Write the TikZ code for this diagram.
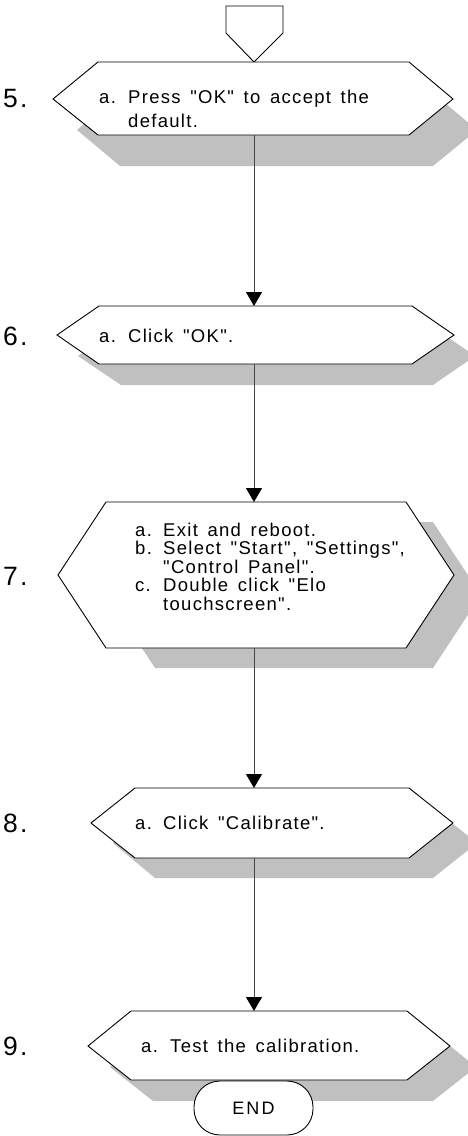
\documentclass[tikz,border=0pt]{standalone}
\usepackage{fontspec}
\setmainfont{Liberation Sans}
\newfontfamily\stepfont[LetterSpace=7,WordSpace=1.5]{Liberation Sans}
\newfontfamily\numfont[LetterSpace=8]{Liberation Sans}
\newfontfamily\endfont[LetterSpace=12]{Liberation Sans}
\usetikzlibrary{arrows.meta}
\definecolor{shadowgray}{RGB}{192,192,192}
\definecolor{flowgray}{RGB}{70,70,70}
\begin{document}
\begin{tikzpicture}[x=1pt,y=-1pt,
  hexline/.style={draw=black,line width=0.9pt,fill=white,line join=miter},
  shade/.style={fill=shadowgray,draw=none},
  flow/.style={draw=flowgray,line width=0.9pt,-{Triangle[width=16pt,length=14pt,color=black]}},
  steptext/.style={anchor=base west,inner sep=0pt,font=\stepfont\fontsize{18.5}{17.4}\selectfont},
  numlabel/.style={anchor=base west,inner sep=0pt,font=\numfont\fontsize{26.5}{26.5}\selectfont},
  endbox/.style={draw=black,line width=0.9pt,fill=white,rounded corners=26pt,minimum width=119pt,minimum height=54pt,inner sep=0pt,font=\endfont\fontsize{18}{18}\selectfont}
]
\useasboundingbox (0,0) rectangle (468,1136);
\clip (0,0) rectangle (468,1136);

% shadows
\fill[shade] (77,130) -- (120,93) -- (433,93) -- (477,130) -- (433,166) -- (120,166) -- cycle;
\fill[shade] (78,356) -- (121,327) -- (433,327) -- (475,356) -- (433,385) -- (121,385) -- cycle;
\fill[shade] (107,595) -- (155,522) -- (433,522) -- (481,595) -- (433,668) -- (155,668) -- cycle;
\fill[shade] (113,843) -- (155,808) -- (433,808) -- (477,843) -- (433,878) -- (155,878) -- cycle;
\fill[shade] (110,1067) -- (153,1032) -- (433,1032) -- (476,1067) -- (433,1101) -- (153,1101) -- cycle;

% off-page connector
\draw[hexline] (226,6) -- (283,6) -- (283,33) -- (254,62) -- (226,33) -- cycle;

% hexagons
\draw[hexline] (53,99) -- (98,62) -- (409,62) -- (453,99) -- (409,135) -- (98,135) -- cycle;
\draw[hexline] (57,335) -- (99,306) -- (412,306) -- (454,335) -- (412,364) -- (99,364) -- cycle;
\draw[hexline] (58,575) -- (106,502) -- (406,502) -- (454,575) -- (406,648) -- (106,648) -- cycle;
\draw[hexline] (91,823) -- (135,788) -- (409,788) -- (453,823) -- (409,858) -- (135,858) -- cycle;
\draw[hexline] (88,1046) -- (131,1011) -- (407,1011) -- (450,1046) -- (407,1080) -- (131,1080) -- cycle;

% connection points
\coordinate (h5s) at (254,135);
\coordinate (h6n) at (254,306);
\coordinate (h6s) at (254,364);
\coordinate (h7n) at (254,502);
\coordinate (h7s) at (254,648);
\coordinate (h8n) at (254,788);
\coordinate (h8s) at (254,858);
\coordinate (h9n) at (254,1011);

\draw[flow] (h5s) -- (h6n);
\draw[flow] (h6s) -- (h7n);
\draw[flow] (h7s) -- (h8n);
\draw[flow] (h8s) -- (h9n);

% step numbers
\node[numlabel] (n5) at (3,107) {5.};
\node[numlabel] (n6) at (3,345) {6.};
\node[numlabel] (n7) at (3,585) {7.};
\node[numlabel] (n8) at (3,832) {8.};
\node[numlabel] (n9) at (3,1055) {9.};

% step texts
\node[steptext,font=\stepfont\fontsize{18.5}{24}\selectfont] (t5) at (99,103)
  {\begin{tabular}[t]{@{}p{29pt}@{}l@{}}a. & Press "OK" to accept the\\ & default.\end{tabular}};
\node[steptext] (t6) at (99,342)
  {\begin{tabular}[t]{@{}p{29pt}@{}l@{}}a. & Click "OK".\end{tabular}};
\node[steptext] (t7) at (135,536)
  {\begin{tabular}[t]{@{}p{28pt}@{}l@{}}a. & Exit and reboot.\\ b. & Select "Start", "Settings",\\ & "Control Panel".\\ c. & Double click "Elo\\ & touchscreen".\end{tabular}};
\node[steptext] (t8) at (135,829)
  {\begin{tabular}[t]{@{}p{28pt}@{}l@{}}a. & Click "Calibrate".\end{tabular}};
\node[steptext] (t9) at (141,1052)
  {\begin{tabular}[t]{@{}p{29pt}@{}l@{}}a. & Test the calibration.\end{tabular}};

% terminator
\node[endbox] (end) at (253.5,1108) {END};
\end{tikzpicture}
\end{document}
